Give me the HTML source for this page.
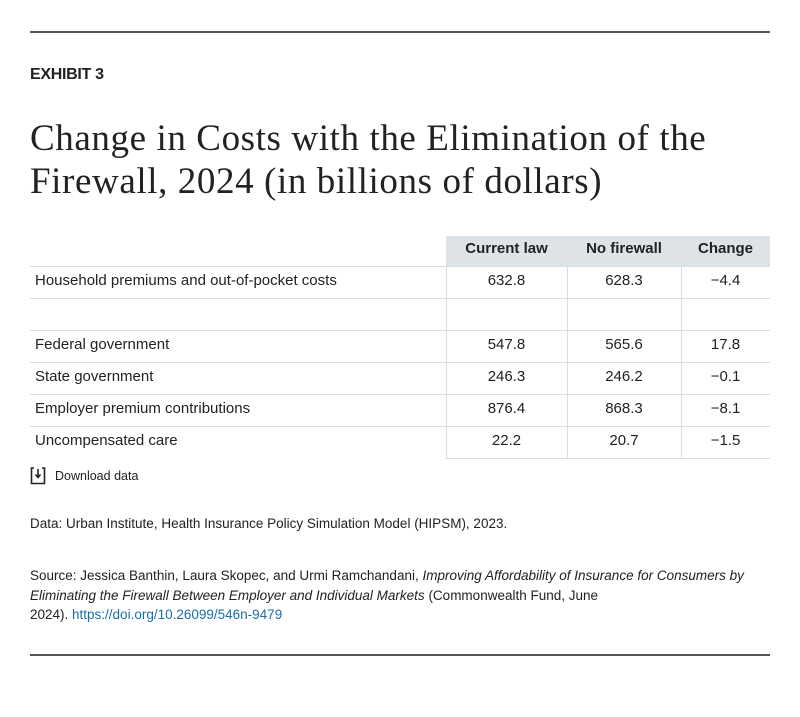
<!DOCTYPE html>
<html><head><style>
body{margin:0;width:800px;height:717px;background:#fff;position:relative;font-family:"Liberation Sans",sans-serif;color:#222;overflow:hidden}
.a{position:absolute}
.hl{position:absolute;height:0;border-top:1px solid #d8dde0}
.vl{position:absolute;width:0;border-left:1px solid #d8dde0}
.c{position:absolute;text-align:center;font-size:15px}
.l{position:absolute;left:35px;font-size:15px}
</style></head><body>
<div class="a" style="left:30px;top:31px;width:740px;border-top:2px solid #555"></div>
<div class="a" style="left:30px;top:66px;font-size:16px;font-weight:bold;letter-spacing:-0.3px">EXHIBIT 3</div>
<div class="a" style="left:30px;top:117px;font-family:'Liberation Serif',serif;font-size:37px;line-height:43px;color:#222;white-space:nowrap;letter-spacing:0.6px">Change in Costs with the Elimination of the<br>Firewall, 2024 (in billions of dollars)</div>
<div class="a" style="left:446px;top:236px;width:324px;height:30px;background:#dde3e6"></div>
<div class="c" style="left:446px;width:121px;top:240px;font-weight:bold">Current law</div>
<div class="c" style="left:567px;width:114px;top:240px;font-weight:bold">No firewall</div>
<div class="c" style="left:681px;width:89px;top:240px;font-weight:bold">Change</div>
<div class="hl" style="left:30px;width:740px;top:266px"></div>
<div class="hl" style="left:30px;width:740px;top:298px"></div>
<div class="hl" style="left:30px;width:740px;top:330px"></div>
<div class="hl" style="left:30px;width:740px;top:362px"></div>
<div class="hl" style="left:30px;width:740px;top:394px"></div>
<div class="hl" style="left:30px;width:740px;top:426px"></div>
<div class="hl" style="left:446px;width:324px;top:458px"></div>
<div class="vl" style="left:446px;top:266px;height:192px"></div>
<div class="vl" style="left:567px;top:266px;height:192px"></div>
<div class="vl" style="left:681px;top:266px;height:192px"></div>
<div class="l" style="top:272px">Household premiums and out-of-pocket costs</div>
<div class="c" style="left:446px;width:121px;top:272px">632.8</div><div class="c" style="left:567px;width:114px;top:272px">628.3</div><div class="c" style="left:681px;width:89px;top:272px">−4.4</div>
<div class="l" style="top:336px">Federal government</div>
<div class="c" style="left:446px;width:121px;top:336px">547.8</div><div class="c" style="left:567px;width:114px;top:336px">565.6</div><div class="c" style="left:681px;width:89px;top:336px">17.8</div>
<div class="l" style="top:368px">State government</div>
<div class="c" style="left:446px;width:121px;top:368px">246.3</div><div class="c" style="left:567px;width:114px;top:368px">246.2</div><div class="c" style="left:681px;width:89px;top:368px">−0.1</div>
<div class="l" style="top:400px">Employer premium contributions</div>
<div class="c" style="left:446px;width:121px;top:400px">876.4</div><div class="c" style="left:567px;width:114px;top:400px">868.3</div><div class="c" style="left:681px;width:89px;top:400px">−8.1</div>
<div class="l" style="top:432px">Uncompensated care</div>
<div class="c" style="left:446px;width:121px;top:432px">22.2</div><div class="c" style="left:567px;width:114px;top:432px">20.7</div><div class="c" style="left:681px;width:89px;top:432px">−1.5</div>
<svg class="a" style="left:30px;top:467px" width="16" height="18" viewBox="0 0 16 18"><path d="M4 1H1.5V16.5H14.5V1H12" fill="none" stroke="#222" stroke-width="1.6"/><path d="M8 2V10M5.5 7.5L8 10.5L10.5 7.5" fill="none" stroke="#222" stroke-width="1.6"/></svg>
<div class="a" style="left:55px;top:469px;font-size:12.5px">Download data</div>
<div class="a" style="left:30px;top:516px;font-size:13.5px">Data: Urban Institute, Health Insurance Policy Simulation Model (HIPSM), 2023.</div>
<div class="a" style="left:30px;top:566px;width:735px;font-size:13.5px;line-height:19.5px">Source: Jessica Banthin, Laura Skopec, and Urmi Ramchandani, <i>Improving Affordability of Insurance for Consumers by Eliminating the Firewall Between Employer and Individual Markets</i> (Commonwealth Fund, June<br>2024). <span style="color:#1a6fa8">https://doi.org/10.26099/546n-9479</span></div>
<div class="a" style="left:30px;top:654px;width:740px;border-top:2px solid #555"></div>
</body></html>
